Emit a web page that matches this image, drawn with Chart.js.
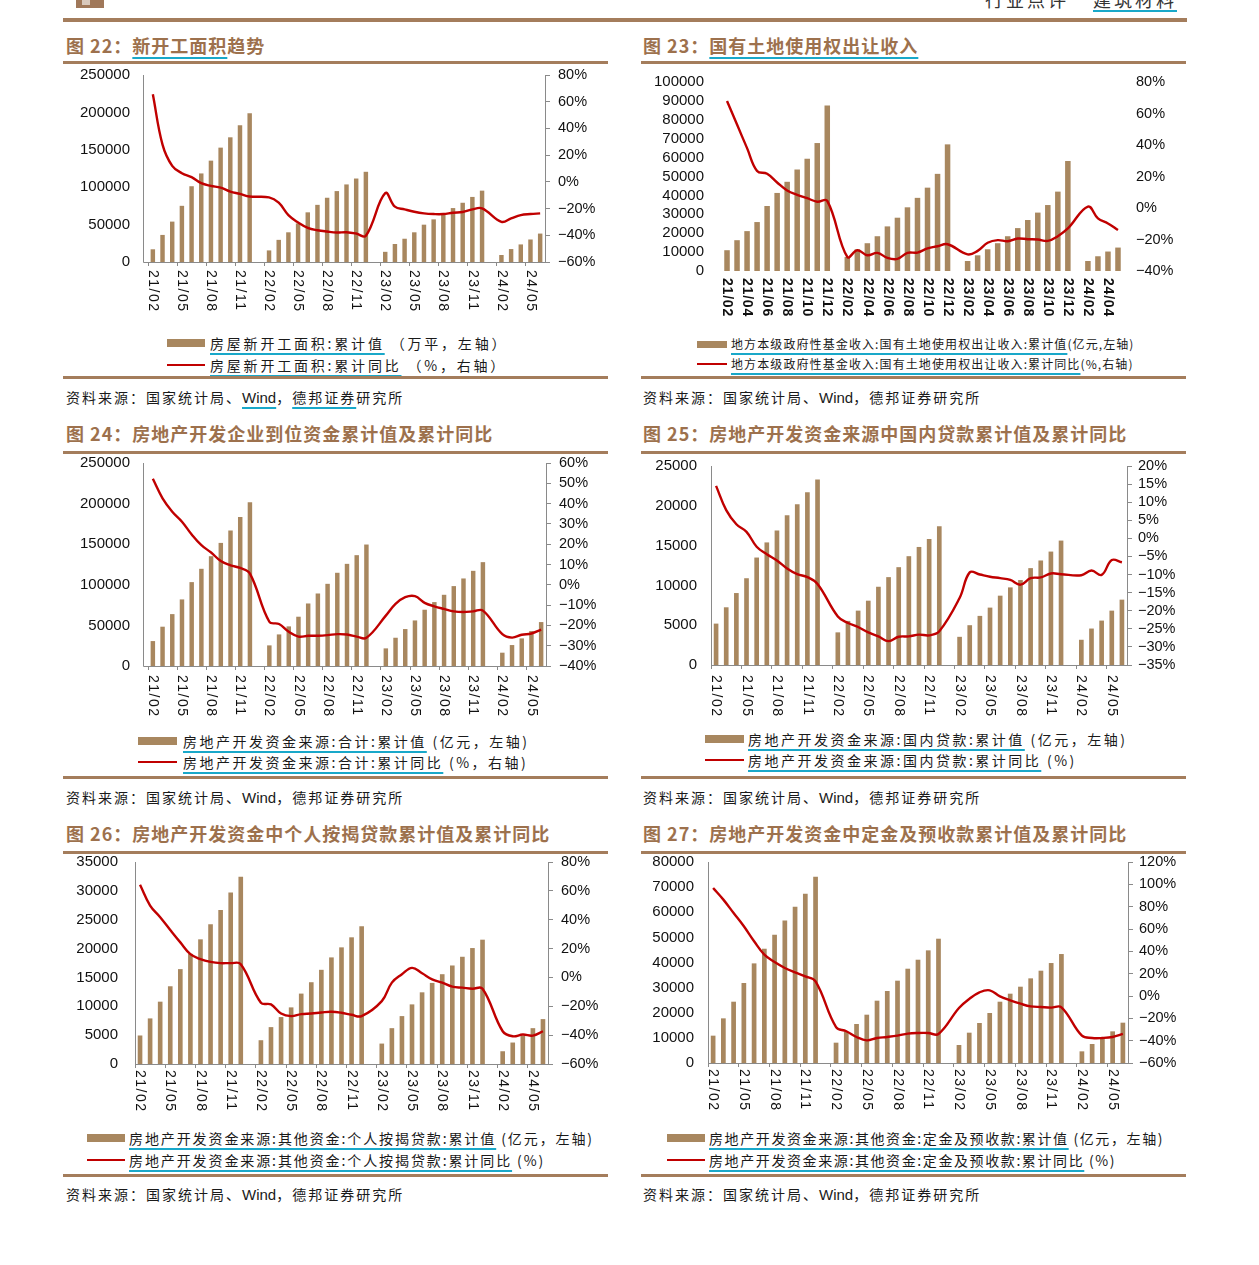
<!DOCTYPE html>
<html><head><meta charset="utf-8">
<script src="https://cdn.jsdelivr.net/npm/chart.js@4.4.1/dist/chart.umd.min.js"></script>
<style>
html,body{margin:0;padding:0;background:#fff;}
body{width:1259px;height:1265px;position:relative;overflow:hidden;font-family:"Noto Sans CJK SC","Noto Sans",sans-serif;color:#1a1a1a;}
.rule{position:absolute;background:#a47d5c;}
.title{position:absolute;font-weight:700;font-size:18px;line-height:24px;color:#9d714d;letter-spacing:1px;white-space:nowrap;}
.u{text-decoration:underline;text-decoration-color:#19a8c9;text-decoration-thickness:2px;text-underline-offset:4px;}
.src{position:absolute;font-size:14px;line-height:20px;letter-spacing:2px;white-space:nowrap;color:#1a1a1a;}
.lat{font-family:"Liberation Sans",Arial,sans-serif;letter-spacing:0;font-size:15px;}
.leg{position:absolute;font-size:14px;line-height:20px;letter-spacing:2.8px;white-space:nowrap;color:#1a1a1a;}
.leg.small{font-size:12px;letter-spacing:1.1px;}
.sw{position:absolute;}
canvas{position:absolute;}
.hdr{position:absolute;top:-13px;font-size:18px;line-height:24px;letter-spacing:3px;color:#333;white-space:nowrap;}
</style>
</head>
<body>
<!-- header -->
<div style="position:absolute;left:76px;top:0;width:28px;height:8px;background:#a0785a;"></div>
<div style="position:absolute;left:82px;top:0;width:8px;height:5px;background:#fff;opacity:.6"></div>
<div class="hdr" style="left:985px;">行业点评</div>
<div class="hdr" style="left:1093px;"><span class="u" style="text-underline-offset:3px">建筑材料</span></div>
<div class="rule" style="left:63px;top:18px;width:1124px;height:4px;"></div>

<!-- titles row 1 -->
<div class="title" style="left:66px;top:33px;">图 22：<span class="u">新开工面积</span>趋势</div>
<div class="title" style="left:643px;top:33px;">图 23：<span class="u">国有土地使用权出让收入</span></div>
<div class="rule" style="left:63px;top:61px;width:545px;height:3px;"></div>
<div class="rule" style="left:641px;top:61px;width:545px;height:3px;"></div>

<!-- legends row 1 -->
<div class="sw" style="left:167px;top:339px;width:38px;height:8px;background:#a8875f;"></div>
<div class="leg" style="left:210px;top:333px;"><span class="u">房屋新开工面积:累计值</span> （万平，左轴）</div>
<div class="sw" style="left:167px;top:364px;width:38px;height:2px;background:#c00000;"></div>
<div class="leg" style="left:210px;top:355px;"><span class="u">房屋新开工面积:累计同比</span> （%，右轴）</div>

<div class="sw" style="left:697px;top:341px;width:30px;height:7px;background:#a8875f;"></div>
<div class="leg small" style="left:731px;top:334px;"><span class="u">地方本级政府性基金收入:国有土地使用权出让收入:累计值</span>(亿元,左轴)</div>
<div class="sw" style="left:697px;top:363px;width:30px;height:2px;background:#c00000;"></div>
<div class="leg small" style="left:731px;top:354px;"><span class="u">地方本级政府性基金收入:国有土地使用权出让收入:累计同比</span>(%,右轴)</div>

<div class="rule" style="left:63px;top:376px;width:545px;height:3px;"></div>
<div class="rule" style="left:641px;top:376px;width:545px;height:3px;"></div>
<div class="src" style="left:66px;top:387px;">资料来源：国家统计局、<span class="u lat">Wind</span>，<span class="u">德邦证券</span>研究所</div>
<div class="src" style="left:643px;top:387px;">资料来源：国家统计局、<span class="lat">Wind</span>，德邦证券研究所</div>

<!-- titles row 2 -->
<div class="title" style="left:66px;top:421px;">图 24：房地产开发企业到位资金累计值及累计同比</div>
<div class="title" style="left:643px;top:421px;">图 25：房地产开发资金来源中国内贷款累计值及累计同比</div>
<div class="rule" style="left:63px;top:451px;width:545px;height:3px;"></div>
<div class="rule" style="left:641px;top:451px;width:545px;height:3px;"></div>

<div class="sw" style="left:138px;top:737px;width:39px;height:8px;background:#a8875f;"></div>
<div class="leg" style="left:183px;top:731px;letter-spacing:2.5px;"><span class="u">房地产开发资金来源:合计:累计值</span> (亿元，左轴)</div>
<div class="sw" style="left:138px;top:761px;width:39px;height:2px;background:#c00000;"></div>
<div class="leg" style="left:183px;top:752px;letter-spacing:2.5px;"><span class="u">房地产开发资金来源:合计:累计同比</span> (%，右轴)</div>

<div class="sw" style="left:705px;top:735px;width:39px;height:8px;background:#a8875f;"></div>
<div class="leg" style="left:748px;top:729px;letter-spacing:2.5px;"><span class="u">房地产开发资金来源:国内贷款:累计值</span> (亿元，左轴)</div>
<div class="sw" style="left:705px;top:759px;width:39px;height:2px;background:#c00000;"></div>
<div class="leg" style="left:748px;top:750px;letter-spacing:2.5px;"><span class="u">房地产开发资金来源:国内贷款:累计同比</span> (%)</div>

<div class="rule" style="left:63px;top:776px;width:545px;height:3px;"></div>
<div class="rule" style="left:641px;top:776px;width:545px;height:3px;"></div>
<div class="src" style="left:66px;top:787px;">资料来源：国家统计局、<span class="lat">Wind</span>，德邦证券研究所</div>
<div class="src" style="left:643px;top:787px;">资料来源：国家统计局、<span class="lat">Wind</span>，德邦证券研究所</div>

<!-- titles row 3 -->
<div class="title" style="left:66px;top:821px;">图 26：房地产开发资金中个人按揭贷款累计值及累计同比</div>
<div class="title" style="left:643px;top:821px;">图 27：房地产开发资金中定金及预收款累计值及累计同比</div>
<div class="rule" style="left:63px;top:851px;width:545px;height:3px;"></div>
<div class="rule" style="left:641px;top:851px;width:545px;height:3px;"></div>

<div class="sw" style="left:87px;top:1134px;width:38px;height:8px;background:#a8875f;"></div>
<div class="leg" style="left:129px;top:1128px;letter-spacing:1.9px;"><span class="u">房地产开发资金来源:其他资金:个人按揭贷款:累计值</span> (亿元，左轴)</div>
<div class="sw" style="left:87px;top:1159px;width:38px;height:2px;background:#c00000;"></div>
<div class="leg" style="left:129px;top:1150px;letter-spacing:1.9px;"><span class="u">房地产开发资金来源:其他资金:个人按揭贷款:累计同比</span> (%)</div>

<div class="sw" style="left:667px;top:1134px;width:38px;height:8px;background:#a8875f;"></div>
<div class="leg" style="left:709px;top:1128px;letter-spacing:1.6px;"><span class="u">房地产开发资金来源:其他资金:定金及预收款:累计值</span> (亿元，左轴)</div>
<div class="sw" style="left:667px;top:1159px;width:38px;height:2px;background:#c00000;"></div>
<div class="leg" style="left:709px;top:1150px;letter-spacing:1.6px;"><span class="u">房地产开发资金来源:其他资金:定金及预收款:累计同比</span> (%)</div>

<div class="rule" style="left:63px;top:1174px;width:545px;height:3px;"></div>
<div class="rule" style="left:641px;top:1174px;width:545px;height:3px;"></div>
<div class="src" style="left:66px;top:1184px;">资料来源：国家统计局、<span class="lat">Wind</span>，德邦证券研究所</div>
<div class="src" style="left:643px;top:1184px;">资料来源：国家统计局、<span class="lat">Wind</span>，德邦证券研究所</div>

<!-- chart canvases (created by script) -->
<div id="charts"></div>

<script>
// ---------- categories ----------
const months41 = ['21/02','21/03','21/04','21/05','21/06','21/07','21/08','21/09','21/10','21/11','21/12',
  '22/01','22/02','22/03','22/04','22/05','22/06','22/07','22/08','22/09','22/10','22/11','22/12',
  '23/01','23/02','23/03','23/04','23/05','23/06','23/07','23/08','23/09','23/10','23/11','23/12',
  '24/01','24/02','24/03','24/04','24/05','24/06'];
const months40 = ['21/02','21/03','21/04','21/05','21/06','21/07','21/08','21/09','21/10','21/11','21/12',
  '22/01','22/02','22/03','22/04','22/05','22/06','22/07','22/08','22/09','22/10','22/11','22/12',
  '23/01','23/02','23/03','23/04','23/05','23/06','23/07','23/08','23/09','23/10','23/11','23/12',
  '24/01','24/02','24/03','24/04','24/05'];
// tick labels shown on the category axes
const xTickLabels41 = months41.map((m, i) => (i % 3 === 0 ? m : ''));
const xTickLabels40 = months40.map((m, i) => (i % 2 === 0 ? m : ''));

// ---------- 图22 新开工面积 ----------
const newStartArea = [17000,36200,54000,75100,101300,118400,135500,152900,166700,182800,198900,
  null,15500,29600,39700,51600,66400,76400,85900,94800,103700,111600,120600,
  null,13600,24100,31100,39700,49900,57000,63900,72100,79200,87000,95400,
  null,9400,17300,23500,30100,38000];
const newStartYoY = [65.6,27.9,12.0,6.5,3.5,-1.0,-3.0,-4.3,-7.3,-9.0,-11.0,
  null,-11.6,-15.6,-24.9,-30.4,-34.4,-36.2,-37.2,-37.9,-37.7,-38.7,-40.4,
  null,-8.5,-18.6,-20.6,-22.4,-23.6,-24.1,-24.1,-23.1,-22.6,-20.6,-19.8,
  null,-29.9,-27.4,-24.9,-24.1,-23.6];

// ---------- 图23 国有土地使用权出让收入 ----------
const landRevenue = [11000,16300,21100,25900,34400,41300,47200,53700,59400,67700,87600,
  null,7400,11500,14700,18400,23600,28200,33700,38700,44100,51400,67000,
  null,5300,8300,11500,14700,18400,22700,27000,30900,34900,42000,58200,
  null,5300,7800,10300,12400];
const landRevenueYoY = [67.9,53.0,38.0,23.5,21.7,16.2,11.1,8.3,6.2,4.0,4.5,
  null,-31.1,-26.8,-30.0,-28.5,-31.7,-32.3,-28.5,-28.3,-25.7,-24.3,-23.0,
  null,-29.4,-27.2,-22.1,-20.4,-21.1,-19.4,-19.8,-20.0,-20.9,-17.9,-13.0,
  null,0.9,-6.6,-9.8,-14.0];

// ---------- 图24 到位资金 ----------
const fundsTotal = [30700,48400,63900,82000,103300,119700,135200,151600,166800,183600,201600,
  null,25400,38900,48800,60700,77000,89300,101200,114800,125800,136500,149600,
  null,21700,34800,45500,56100,69300,78700,87700,98400,107800,117200,127900,
  null,16400,25800,34000,43000,54100];
const fundsTotalYoY = [52.2,42.6,36.0,31.1,24.8,19.5,15.9,11.7,9.6,8.3,5.5,
  null,-18.2,-19.3,-23.1,-25.5,-25.1,-25.1,-24.8,-24.3,-24.5,-25.5,-26.1,
  null,-15.2,-9.4,-6.1,-5.6,-8.9,-10.6,-11.9,-13.1,-13.4,-13.1,-12.7,
  null,-24.3,-26.0,-24.6,-24.0,-22.1];

// ---------- 图25 国内贷款 ----------
const domesticLoans = [5200,7250,9040,10900,13500,15400,16900,18800,20200,21700,23300,
  null,4100,5540,6830,8080,9830,11040,12290,13670,14830,15830,17420,
  null,3540,5000,6170,7210,8710,9750,10670,12170,13130,14250,15630,
  null,3170,4580,5580,6830,8210];
const domesticLoansYoY = [14.5,7.8,3.9,1.8,-2.3,-4.4,-6.1,-8.3,-9.9,-10.7,-12.6,
  null,-21.6,-23.4,-24.5,-26.0,-27.1,-28.4,-27.2,-27.1,-26.6,-26.8,-25.7,
  null,-16.5,-9.4,-10.0,-10.6,-11.0,-11.5,-12.8,-11.0,-10.8,-9.7,-9.9,
  null,-10.2,-8.9,-10.1,-6.0,-6.6];

// ---------- 图26 个人按揭贷款 ----------
const mortgageLoans = [4940,7900,10800,13470,16440,19100,21600,24200,26700,29700,32460,
  null,4120,6390,8130,9810,12200,14170,16320,18470,20210,21950,23870,
  null,3540,6210,8300,10330,12420,14050,15560,17070,18580,20090,21540,
  null,2210,3720,4940,6210,7780];
const mortgageLoansYoY = [64.2,49.8,41.7,32.9,24.3,16.1,12.7,10.8,9.9,9.9,9.2,
  null,-17.5,-18.7,-25.0,-26.8,-25.4,-25.0,-24.3,-23.8,-24.5,-25.9,-26.8,
  null,-16.4,-3.6,2.2,6.6,2.9,-1.3,-3.6,-6.4,-7.1,-7.8,-7.8,
  null,-37.3,-40.8,-39.6,-40.3,-37.3];

// ---------- 图27 定金及预收款 ----------
const depositsAdvance = [10880,17770,24400,31830,39650,45480,51060,56760,62200,67370,74140,
  null,8090,12330,15520,19230,24800,28650,32760,37530,41110,44830,49470,
  null,7160,12070,15920,19890,24400,27590,30370,33690,36740,39790,43370,
  null,4640,7560,9950,12600,16050];
const depositsAdvanceYoY = [96.7,86.3,74.3,62.4,49.0,37.0,30.4,25.1,21.2,17.6,13.1,
  null,-27.8,-31.6,-36.7,-39.7,-37.6,-36.7,-35.5,-33.7,-33.1,-33.1,-34.0,
  null,-10.7,-2.7,3.3,5.1,-0.3,-3.9,-6.9,-9.3,-9.9,-10.4,-10.1,
  null,-35.5,-37.6,-37.6,-36.7,-34.0];

// ---------- plugins ----------
const rotatedXLabels = {
  id: 'rotatedXLabels',
  afterDraw(chart, args, o) {
    const xs = chart.scales.x, c = chart.ctx;
    c.save();
    c.font = o.font;
    c.fillStyle = '#111';
    try { c.letterSpacing = o.spacing + 'px'; } catch (e) {}
    c.textAlign = 'left';
    c.textBaseline = 'middle';
    o.labels.forEach((lab, i) => {
      if (!lab) return;
      const px = xs.getPixelForValue(i);
      c.save();
      c.translate(px, xs.top + o.offset);
      c.rotate(Math.PI / 2);
      c.fillText(lab, 0, 0);
      c.restore();
    });
    c.restore();
  }
};
const axisLines = {
  id: 'axisLines',
  afterDraw(chart, args, o) {
    if (!o.show) return;
    const a = chart.chartArea, c = chart.ctx;
    const lx = Math.round(a.left - o.gap) + 0.5, by = Math.round(a.bottom) + 0.5;
    c.save();
    c.strokeStyle = '#8a8a8a';
    c.lineWidth = 1;
    c.beginPath();
    c.moveTo(lx, a.top);
    c.lineTo(lx, by);
    c.lineTo(a.right, by);
    c.stroke();
    c.restore();
  }
};

function pct(v) { return (v < 0 ? '\u2212' : '') + Math.abs(v) + '%'; }

function makeConfig(o) {
  const showAxes = o.axes !== false;
  return {
    data: {
      labels: o.labels,
      datasets: [
        { type: 'line', data: o.line, yAxisID: 'y1', borderColor: '#c00000', borderWidth: 2.4,
          pointRadius: 0, tension: 0.4, spanGaps: true, order: 0, fill: false },
        { type: 'bar', data: o.bars, yAxisID: 'y', backgroundColor: '#a8875f',
          barPercentage: 1, categoryPercentage: o.barPct || 0.46, order: 1 }
      ]
    },
    options: {
      responsive: false, maintainAspectRatio: false, animation: false,
      layout: { padding: { top: o.padTop, left: 0, right: 0, bottom: 0 } },
      plugins: {
        legend: { display: false }, tooltip: { enabled: false }, title: { display: false },
        rotatedXLabels: { labels: o.tickLabels, font: o.xFont || '14px "Liberation Sans", Arial', spacing: o.xSpacing ?? 1.5, offset: o.xOffset },
        axisLines: { show: showAxes, gap: o.gap || 0 }
      },
      scales: {
        x: {
          offset: true,
          ticks: { display: false },
          border: { display: false },
          grid: { display: showAxes, offset: true, drawOnChartArea: false, drawTicks: true, tickLength: 4,
            lineWidth: 1, color: ctx => (ctx.index !== undefined && ctx.index % o.tickEvery === 0 ? '#8a8a8a' : 'rgba(0,0,0,0)') },
          afterFit: s => { s.height = o.xH; }
        },
        y: {
          position: 'left', min: o.yMin, max: o.yMax,
          ticks: { stepSize: o.yStep, autoSkip: false, font: { family: 'Liberation Sans', size: 15 }, color: '#111', padding: o.lPad,
            callback: v => String(v) },
          grid: { display: false, drawTicks: false },
          border: { display: false },
          afterFit: s => { s.width = o.leftW; }
        },
        y1: {
          position: 'right', min: o.rMin, max: o.rMax,
          ticks: { stepSize: o.rStep, autoSkip: false, font: { family: 'Liberation Sans', size: 14.5 }, color: '#111', padding: o.rPad, callback: pct },
          grid: { display: showAxes, drawOnChartArea: false, drawTicks: showAxes, tickLength: 5, color: '#8a8a8a' },
          border: { display: showAxes, color: '#8a8a8a' },
          afterFit: s => { s.width = o.rightW; }
        }
      }
    },
    plugins: [rotatedXLabels, axisLines]
  };
}

// places a canvas so that the plot area top lands on o.plotTop (page px) and the canvas ends at o.bottom
function build(o) {
  const holder = document.getElementById('charts');
  let top = o.plotTop - o.padTop, height = o.bottom - top;
  let cv, chart;
  for (let pass = 0; pass < 3; pass++) {
    if (chart) { chart.destroy(); cv.remove(); }
    cv = document.createElement('canvas');
    cv.width = o.width; cv.height = height;
    cv.style.left = o.left + 'px'; cv.style.top = top + 'px';
    holder.appendChild(cv);
    chart = new Chart(cv, makeConfig(o));
    const actualTop = top + chart.chartArea.top;
    const diff = actualTop - o.plotTop;
    if (Math.abs(diff) < 0.5) break;
    top -= diff; height = o.bottom - top;
  }
  return chart;
}

build({ left: 63, width: 545, plotTop: 75, bottom: 326,
  labels: months41, tickLabels: xTickLabels41, tickEvery: 3, bars: newStartArea, line: newStartYoY,
  yMin: 0, yMax: 250000, yStep: 50000, rMin: -60, rMax: 80, rStep: 20,
  leftW: 85, rightW: 63, padTop: 11, xH: 64, lPad: 18, rPad: 8, gap: 5, xOffset: 8 });

build({ left: 641, width: 545, plotTop: 82, bottom: 326,
  labels: months40, tickLabels: xTickLabels40, tickEvery: 2, bars: landRevenue, line: landRevenueYoY,
  yMin: 0, yMax: 100000, yStep: 10000, rMin: -40, rMax: 80, rStep: 20, axes: false, barPct: 0.55,
  leftW: 81, rightW: 63, padTop: 18, xH: 55, lPad: 18, rPad: 13, xOffset: 7,
  xFont: 'bold 14px "Liberation Sans", Arial', xSpacing: 0.8 });

build({ left: 63, width: 545, plotTop: 463, bottom: 726,
  labels: months41, tickLabels: xTickLabels41, tickEvery: 3, bars: fundsTotal, line: fundsTotalYoY,
  yMin: 0, yMax: 250000, yStep: 50000, rMin: -40, rMax: 60, rStep: 10,
  leftW: 85, rightW: 62, padTop: 9, xH: 60, lPad: 18, rPad: 8, gap: 5, xOffset: 9 });

build({ left: 641, width: 545, plotTop: 466, bottom: 726,
  labels: months41, tickLabels: xTickLabels41, tickEvery: 3, bars: domesticLoans, line: domesticLoansYoY,
  yMin: 0, yMax: 25000, yStep: 5000, rMin: -35, rMax: 20, rStep: 5,
  leftW: 70, rightW: 59, padTop: 12, xH: 61, lPad: 14, rPad: 6, xOffset: 10 });

build({ left: 63, width: 545, plotTop: 862, bottom: 1124,
  labels: months41, tickLabels: xTickLabels41, tickEvery: 3, bars: mortgageLoans, line: mortgageLoansYoY,
  yMin: 0, yMax: 35000, yStep: 5000, rMin: -60, rMax: 80, rStep: 20,
  leftW: 72, rightW: 60, padTop: 8, xH: 60, lPad: 17, rPad: 8, xOffset: 6 });

build({ left: 641, width: 545, plotTop: 862, bottom: 1124,
  labels: months41, tickLabels: xTickLabels41, tickEvery: 3, bars: depositsAdvance, line: depositsAdvanceYoY,
  yMin: 0, yMax: 80000, yStep: 10000, rMin: -60, rMax: 120, rStep: 20,
  leftW: 67, rightW: 58, padTop: 8, xH: 61, lPad: 14, rPad: 6, xOffset: 6 });
</script>
</body></html>
